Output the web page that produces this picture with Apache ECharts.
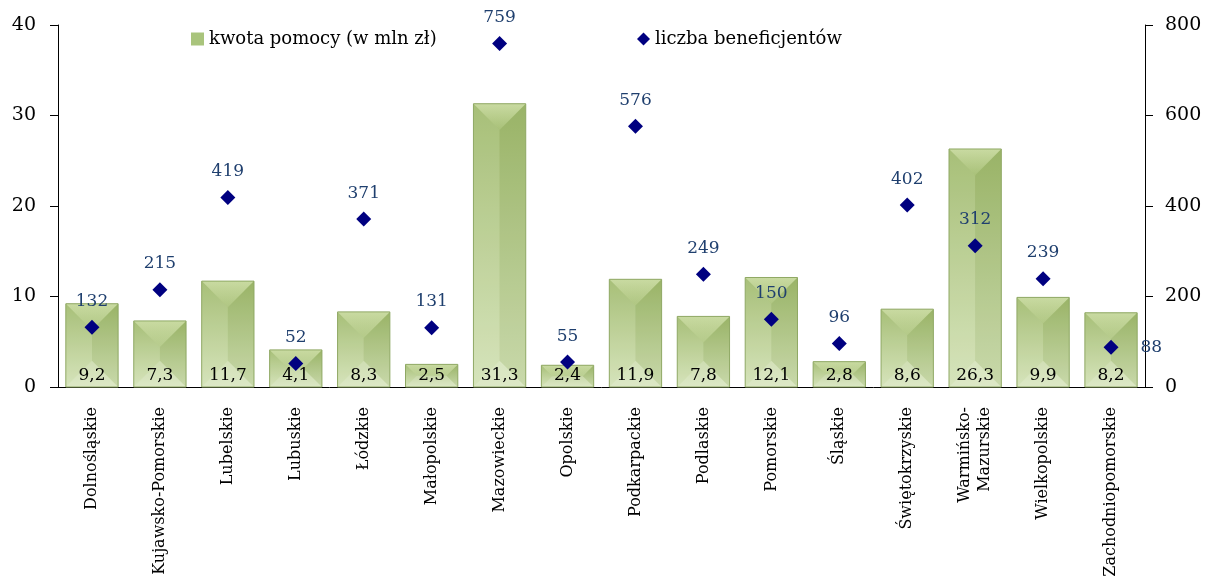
<!DOCTYPE html>
<html>
<head>
<meta charset="utf-8">
<script src="https://cdn.jsdelivr.net/npm/echarts@6/dist/echarts.min.js"></script>
<style>
  html, body { margin: 0; padding: 0; background: #fff; }
  #chart { width: 1214px; height: 577px; }
</style>
</head>
<body>
<div id="chart"></div>
<script>
// dane z wykresu
const regions = [
  'Dolnośląskie', 'Kujawsko-Pomorskie', 'Lubelskie', 'Lubuskie', 'Łódzkie',
  'Małopolskie', 'Mazowieckie', 'Opolskie', 'Podkarpackie', 'Podlaskie',
  'Pomorskie', 'Śląskie', 'Świętokrzyskie', 'Warmińsko-\nMazurskie',
  'Wielkopolskie', 'Zachodniopomorskie'
]
const kwotaPomocy = [9.2, 7.3, 11.7, 4.1, 8.3, 2.5, 31.3, 2.4, 11.9, 7.8, 12.1, 2.8, 8.6, 26.3, 9.9, 8.2]
const liczbaBeneficjentow = [132, 215, 419, 52, 371, 131, 759, 55, 576, 249, 150, 96, 402, 312, 239, 88]
const leftTicks = { min: 0, max: 40, interval: 10 }
const rightTicks = { min: 0, max: 800, interval: 200 }

const serif = '"DejaVu Serif", "Liberation Serif", serif'
const chart = echarts.init(document.getElementById('chart'))

// słupek z efektem "piramidy" jak w Excelu
const renderBar = (params, api) => {
  const idx = api.value(0)
  const val = api.value(1)
  const base = api.coord([idx, 0])
  const top = api.coord([idx, val])
  const w = api.size([1, 0])[0] * 0.77
  const L = base[0] - w / 2
  const R = base[0] + w / 2
  const T = top[1]
  const B = base[1]
  const d = Math.min(w / 2, (B - T) / 2)
  const poly = (pts, fill) => ({ type: 'polygon', shape: { points: pts }, style: { fill: fill }, silent: true })
  return {
    type: 'group',
    children: [
      {
        type: 'rect',
        shape: { x: L, y: T, width: w, height: B - T },
        style: {
          fill: new echarts.graphic.LinearGradient(0, 0, 0, 1, [
            { offset: 0, color: '#a0ba6d' },
            { offset: 1, color: '#d3e2b6' }
          ])
        }
      },
      poly([[L, T], [R, T], [R - d, T + d], [L + d, T + d]],
        new echarts.graphic.LinearGradient(0, 0, 0, 1, [
          { offset: 0, color: 'rgba(235,245,205,0.55)' },
          { offset: 1, color: 'rgba(235,245,205,0.05)' }
        ])),
      poly([[L, T], [L + d, T + d], [L + d, B - d], [L, B]], 'rgba(255,255,255,0.08)'),
      poly([[R, T], [R - d, T + d], [R - d, B - d], [R, B]], 'rgba(70,95,25,0.07)'),
      poly([[L, B], [L + d, B - d], [R - d, B - d], [R, B]], 'rgba(255,255,255,0.22)'),
      {
        type: 'rect',
        shape: { x: L, y: T, width: w, height: B - T },
        style: { fill: 'none', stroke: '#8fa864', lineWidth: 1 },
        silent: true
      },
      {
        type: 'text',
        style: {
          x: base[0],
          y: B - 3,
          text: String(val).replace('.', ','),
          align: 'center',
          verticalAlign: 'bottom',
          font: '17px ' + serif,
          fill: '#000'
        },
        silent: true
      }
    ]
  }
}

const scatterData = liczbaBeneficjentow.map((v, i) =>
  i === liczbaBeneficjentow.length - 1
    ? { value: v, label: { position: 'right', distance: 22 } }
    : v
)

const option = {
  backgroundColor: '#fff',
  animation: false,
  textStyle: { fontFamily: serif },
  legend: [
    {
      data: [{ name: 'kwota pomocy (w mln zł)', icon: 'rect' }],
      left: 186,
      top: 25,
      itemWidth: 13,
      itemHeight: 13,
      itemGap: 5,
      textStyle: { fontFamily: serif, fontSize: 18, color: '#000' }
    },
    {
      data: [{ name: 'liczba beneficjentów', icon: 'diamond' }],
      left: 632,
      top: 25,
      itemWidth: 13,
      itemHeight: 13,
      textStyle: { fontFamily: serif, fontSize: 18, color: '#000' }
    }
  ],
  grid: { left: 58, right: 69, top: 25, bottom: 190, outerBoundsMode: 'none', containLabel: false },
  xAxis: {
    type: 'category',
    data: regions,
    axisLine: { lineStyle: { color: '#000', width: 1 } },
    axisTick: { length: 6, lineStyle: { color: '#000' } },
    axisLabel: {
      rotate: 90,
      margin: 20,
      fontFamily: serif,
      fontSize: 16,
      color: '#000',
      interval: 0,
      lineHeight: 20
    }
  },
  yAxis: [
    {
      type: 'value',
      min: leftTicks.min,
      max: leftTicks.max,
      interval: leftTicks.interval,
      axisLine: { show: true, lineStyle: { color: '#000' } },
      axisTick: { show: true, length: 8, lineStyle: { color: '#000' } },
      axisLabel: { fontFamily: serif, fontSize: 19, color: '#000', margin: 22 },
      splitLine: { show: false }
    },
    {
      type: 'value',
      min: rightTicks.min,
      max: rightTicks.max,
      interval: rightTicks.interval,
      axisLine: { show: true, lineStyle: { color: '#000' } },
      axisTick: { show: true, length: 8, lineStyle: { color: '#000' } },
      axisLabel: { fontFamily: serif, fontSize: 19, color: '#000', margin: 20 },
      splitLine: { show: false }
    }
  ],
  series: [
    {
      name: 'kwota pomocy (w mln zł)',
      type: 'custom',
      renderItem: renderBar,
      itemStyle: { color: '#a9c47c' },
      encode: { x: 0, y: 1 },
      data: kwotaPomocy.map((v, i) => [i, v]),
      z: 2
    },
    {
      name: 'liczba beneficjentów',
      type: 'scatter',
      yAxisIndex: 1,
      symbol: 'diamond',
      symbolSize: 15,
      itemStyle: { color: '#000080', opacity: 1 },
      label: {
        show: true,
        position: 'top',
        distance: 10,
        fontFamily: serif,
        fontSize: 17,
        color: '#1f3f6e',
        opacity: 1
      },
      data: scatterData,
      z: 3
    }
  ]
}

chart.setOption(option)
</script>
</body>
</html>
